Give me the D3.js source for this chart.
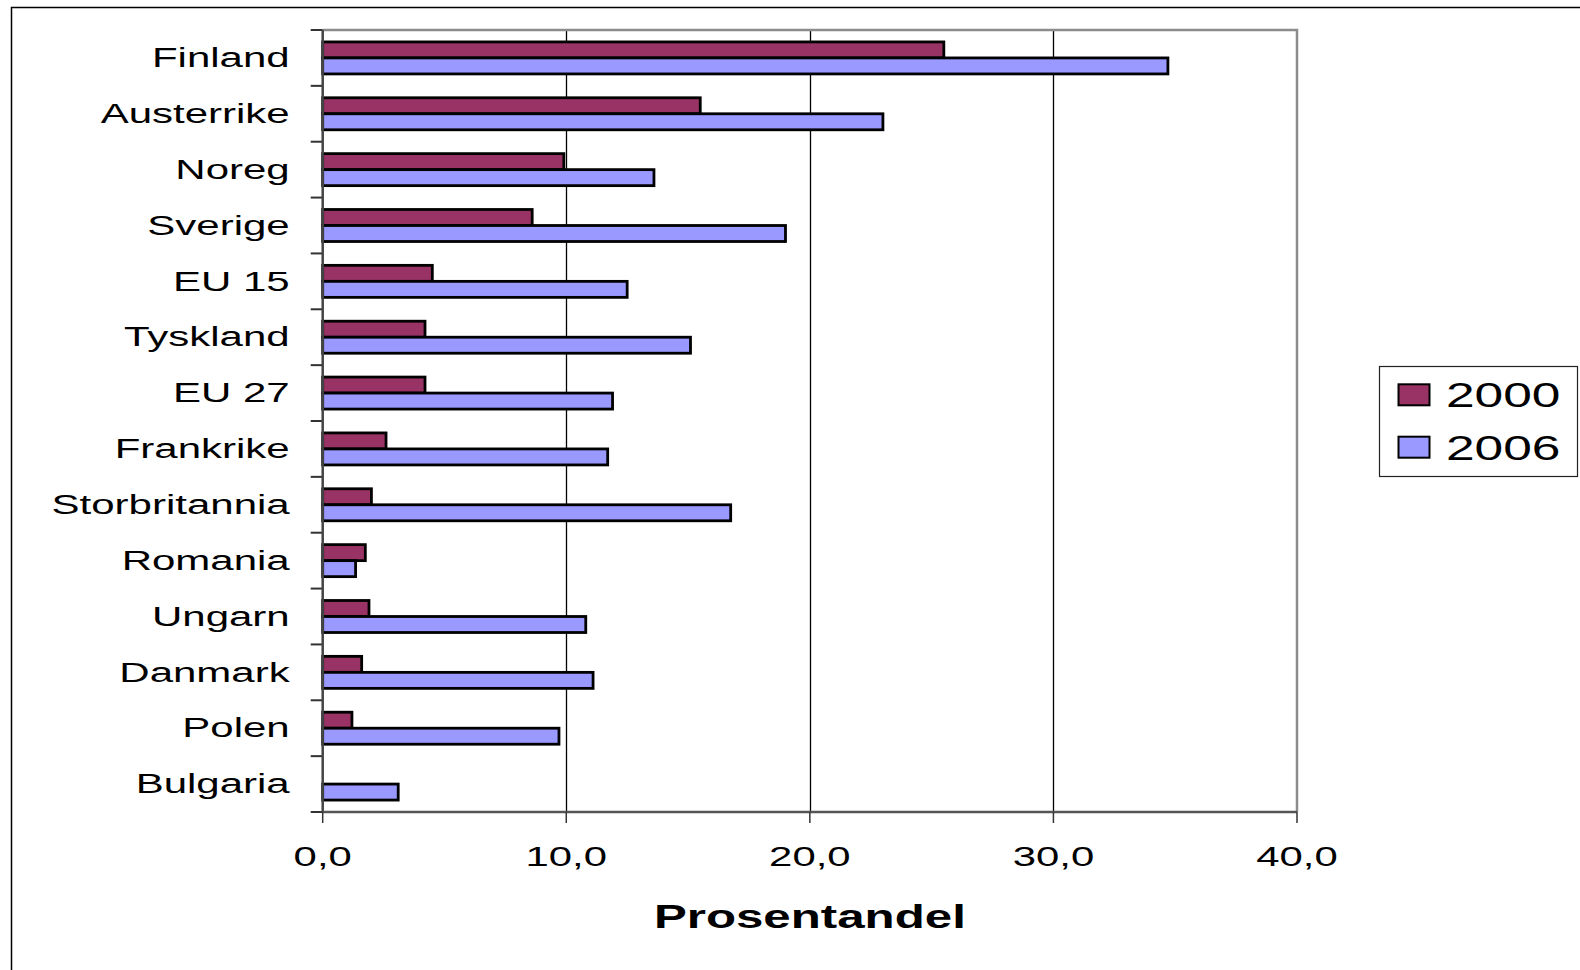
<!DOCTYPE html>
<html>
<head>
<meta charset="utf-8">
<script src="https://cdn.jsdelivr.net/npm/d3@7"></script>
<style>
  body { margin: 0; background: #fff; }
  svg { display: block; font-family: "Liberation Sans", Arial, sans-serif; }
</style>
</head>
<body>
<script>
var w = 1580;
var h = 970;

// chart values
var countries = ["Finland", "Austerrike", "Noreg", "Sverige", "EU 15", "Tyskland", "EU 27",
                 "Frankrike", "Storbritannia", "Romania", "Ungarn", "Danmark", "Polen", "Bulgaria"];
var years = ["2000", "2006"];
var share2000 = [25.5, 15.5, 9.9, 8.6, 4.5, 4.2, 4.2, 2.6, 2.0, 1.75, 1.9, 1.6, 1.2, null];
var share2006 = [34.7, 23.0, 13.6, 19.0, 12.5, 15.1, 11.9, 11.7, 16.75, 1.35, 10.8, 11.1, 9.7, 3.1];
var xTicks = [0, 10, 20, 30, 40];
var axisTitle = "Prosentandel";

var colors = { "2000": "#993366", "2006": "#9999ff" };
var sx = 1.47;   // the original picture is stretched sideways

var svg = d3.select("body")
    .append("svg")
    .attr("width", w)
    .attr("height", h);

// outer frame
svg.append("rect")
    .attr("x", 11.5)
    .attr("y", 7.5)
    .attr("width", w + 50)
    .attr("height", h + 50)
    .attr("fill", "none")
    .attr("stroke", "#000")
    .attr("stroke-width", 1.5);

var pLeft = 322.7, pRight = 1297, pTop = 30, pBottom = 812;

var xScale = d3.scaleLinear()
    .domain([0, 40])
    .range([pLeft, pRight]);

var yScale = d3.scaleBand()
    .domain(countries)
    .range([pTop, pBottom])
    .paddingInner(0.427)
    .paddingOuter(0.2135);

var ySub = d3.scaleBand()
    .domain(years)
    .range([0, yScale.bandwidth()]);

// gridlines
svg.selectAll("line.grid")
    .data(xTicks.slice(1, -1))
    .enter()
    .append("line")
    .attr("class", "grid")
    .attr("x1", function(d) { return Math.round(xScale(d)) + 0.5; })
    .attr("x2", function(d) { return Math.round(xScale(d)) + 0.5; })
    .attr("y1", pTop)
    .attr("y2", pBottom)
    .attr("stroke", "#000")
    .attr("stroke-width", 1.3);

// plot border top + right
svg.append("path")
    .attr("d", "M" + pLeft + "," + pTop + "H" + pRight + "V" + pBottom)
    .attr("fill", "none")
    .attr("stroke", "#8c8c8c")
    .attr("stroke-width", 2.5);

// bars
var rows = countries.map(function(c, i) {
  return { country: c, values: [
    { year: "2000", value: share2000[i] },
    { year: "2006", value: share2006[i] }
  ]};
});

var groups = svg.selectAll("g.row")
    .data(rows)
    .enter()
    .append("g")
    .attr("class", "row")
    .attr("transform", function(d) { return "translate(0," + yScale(d.country) + ")"; });

groups.selectAll("rect")
    .data(function(d) { return d.values.filter(function(v) { return v.value != null; }); })
    .enter()
    .append("rect")
    .attr("x", xScale(0))
    .attr("y", function(d) { return ySub(d.year); })
    .attr("width", function(d) { return xScale(d.value) - xScale(0); })
    .attr("height", ySub.bandwidth())
    .attr("fill", function(d) { return colors[d.year]; })
    .attr("stroke", "#000")
    .attr("stroke-width", 2.8);

// left axis with ticks between categories
var step = yScale.step();
var yTickPos = d3.range(countries.length + 1).map(function(i) { return pTop + i * step; });

svg.selectAll("line.ytick")
    .data(yTickPos)
    .enter()
    .append("line")
    .attr("class", "ytick")
    .attr("x1", pLeft - 12)
    .attr("x2", pLeft)
    .attr("y1", function(d) { return d; })
    .attr("y2", function(d) { return d; })
    .attr("stroke", "#333")
    .attr("stroke-width", 2);

svg.append("line")
    .attr("x1", pLeft).attr("x2", pLeft)
    .attr("y1", pTop).attr("y2", pBottom)
    .attr("stroke", "#444")
    .attr("stroke-width", 2.5);

svg.selectAll("text.ylab")
    .data(countries)
    .enter()
    .append("text")
    .attr("class", "ylab")
    .attr("transform", function(d) {
      return "translate(" + (pLeft - 33) + "," + (yScale(d) + yScale.bandwidth() / 2) + ") scale(1.5,1)";
    })
    .attr("dy", "0.33em")
    .attr("text-anchor", "end")
    .attr("font-size", 28)
    .attr("fill", "#000")
    .text(function(d) { return d; });

// bottom axis
svg.append("line")
    .attr("x1", pLeft).attr("x2", pRight)
    .attr("y1", pBottom).attr("y2", pBottom)
    .attr("stroke", "#555")
    .attr("stroke-width", 2.5);

svg.selectAll("line.xtick")
    .data(xTicks)
    .enter()
    .append("line")
    .attr("class", "xtick")
    .attr("x1", function(d) { return xScale(d); })
    .attr("x2", function(d) { return xScale(d); })
    .attr("y1", pBottom)
    .attr("y2", pBottom + 11)
    .attr("stroke", "#333")
    .attr("stroke-width", 1.5);

var fmt = function(d) { return d3.format(".1f")(d).replace(".", ","); };

svg.selectAll("text.xlab")
    .data(xTicks)
    .enter()
    .append("text")
    .attr("class", "xlab")
    .attr("transform", function(d) { return "translate(" + xScale(d) + "," + (pBottom + 54) + ") scale(" + sx + ",1)"; })
    .attr("text-anchor", "middle")
    .attr("font-size", 28.5)
    .attr("fill", "#000")
    .text(fmt);

svg.append("text")
    .attr("transform", "translate(" + ((pLeft + pRight) / 2) + "," + (pBottom + 116) + ") scale(" + sx + ",1)")
    .attr("text-anchor", "middle")
    .attr("font-size", 33.5)
    .attr("font-weight", "bold")
    .attr("fill", "#000")
    .text(axisTitle);

// legend
var legend = svg.append("g")
    .attr("transform", "translate(1379.5,366.5)");

legend.append("rect")
    .attr("width", 198)
    .attr("height", 110)
    .attr("fill", "#fff")
    .attr("stroke", "#222")
    .attr("stroke-width", 1.2);

var legY = d3.scaleBand()
    .domain(years)
    .range([0, 110])
    .paddingOuter(0.05);

var items = legend.selectAll("g.item")
    .data(years)
    .enter()
    .append("g")
    .attr("class", "item")
    .attr("transform", function(d) { return "translate(0," + (legY(d) + legY.bandwidth() / 2) + ")"; });

items.append("rect")
    .attr("x", 19)
    .attr("y", -11)
    .attr("width", 31)
    .attr("height", 21)
    .attr("fill", function(d) { return colors[d]; })
    .attr("stroke", "#000")
    .attr("stroke-width", 2);

items.append("text")
    .attr("transform", "translate(66.5,12) scale(" + sx + ",1)")
    .attr("font-size", 35)
    .attr("fill", "#000")
    .text(function(d) { return d; });
</script>
</body>
</html>
